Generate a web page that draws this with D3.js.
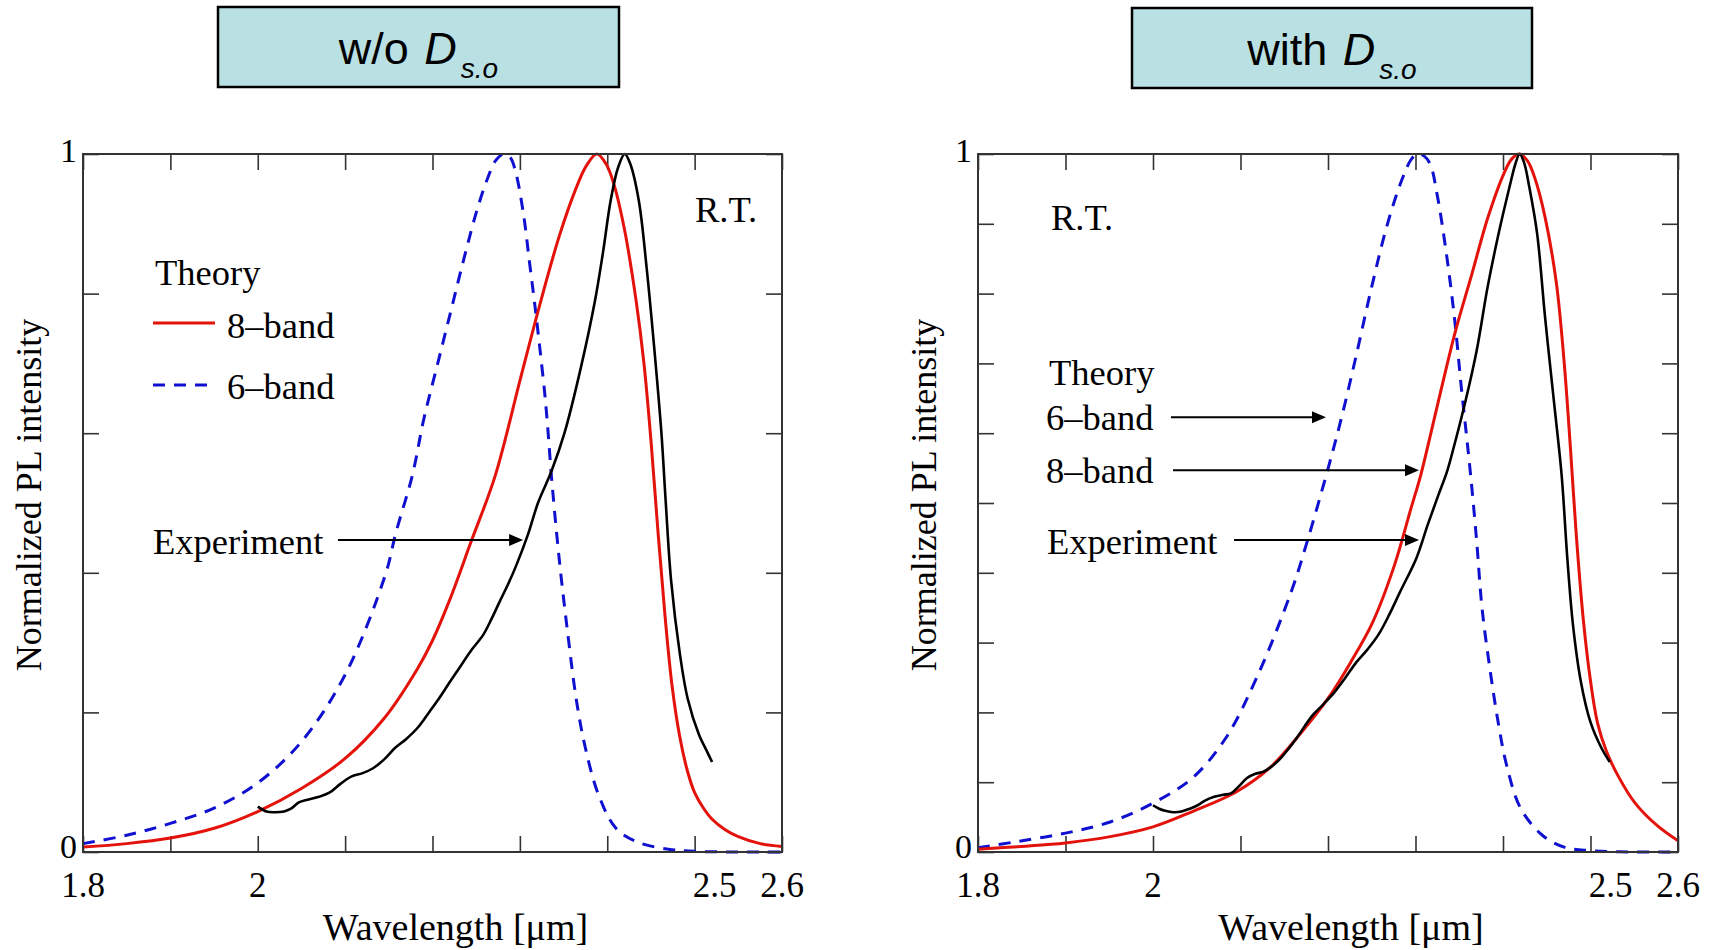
<!DOCTYPE html>
<html><head><meta charset="utf-8">
<script src="https://cdn.jsdelivr.net/npm/d3@7"></script>
<style>
body{margin:0;background:#fff}
svg{display:block}
.serif{font-family:"Liberation Serif","Times New Roman",serif}
.sans{font-family:"Liberation Sans",Arial,sans-serif}
</style>
</head><body>
<svg id="c" width="1711" height="950"></svg>
<script>
// ---------------- data ----------------
const xTicks = [1.8, 1.9, 2.0, 2.1, 2.2, 2.3, 2.4, 2.5, 2.6];
const xLabelValues = [1.8, 2.0, 2.5, 2.6];
const xLabelText = ["1.8", "2", "2.5", "2.6"];
const yTicksLeft = [0, 0.2, 0.4, 0.6, 0.8, 1];
const yTicksRight = [0, 0.1, 0.2, 0.3, 0.4, 0.5, 0.6, 0.7, 0.8, 0.9, 1];
const yLabelValues = [0, 1];
const yLabelText = ["0", "1"];
const panelTitles = ["w/o", "with"];

// Left panel (without spin-orbit)
const left6band = [[1.80,0.012],[1.85,0.024],[1.90,0.041],[1.95,0.063],[2.00,0.099],[2.05,0.158],[2.10,0.254],
  [2.146,0.397],[2.158,0.457],[2.177,0.54],[2.19,0.62],[2.206,0.70],[2.222,0.78],[2.238,0.86],[2.251,0.92],
  [2.263,0.965],[2.272,0.99],[2.281,1.0],[2.289,0.995],[2.295,0.975],[2.304,0.915],[2.311,0.845],[2.317,0.785],
  [2.323,0.72],[2.329,0.65],[2.333,0.59],[2.336,0.54],[2.345,0.42],[2.355,0.311],[2.365,0.215],[2.375,0.149],
  [2.39,0.082],[2.41,0.034],[2.435,0.014],[2.47,0.004],[2.50,0.001],[2.55,0.0],[2.60,0.0]];
const left8band = [[1.80,0.007],[1.85,0.012],[1.90,0.02],[1.95,0.034],[2.00,0.058],[2.05,0.091],[2.10,0.134],
  [2.145,0.192],[2.183,0.263],[2.20,0.303],[2.219,0.359],[2.244,0.444],[2.272,0.54],[2.301,0.68],[2.323,0.785],
  [2.345,0.882],[2.364,0.95],[2.376,0.983],[2.388,1.0],[2.399,0.985],[2.408,0.955],[2.42,0.89],[2.433,0.79],
  [2.442,0.70],[2.45,0.59],[2.458,0.46],[2.466,0.34],[2.474,0.24],[2.483,0.165],[2.492,0.115],[2.50,0.085],
  [2.51,0.063],[2.52,0.047],[2.535,0.032],[2.55,0.022],[2.575,0.012],[2.60,0.008]];
const leftExp = [[2.00,0.065],[2.01,0.058],[2.019,0.057],[2.03,0.058],[2.038,0.062],[2.047,0.071],[2.057,0.075],
  [2.07,0.079],[2.082,0.085],[2.095,0.098],[2.107,0.108],[2.12,0.113],[2.132,0.12],[2.145,0.133],[2.157,0.149],
  [2.17,0.162],[2.183,0.178],[2.196,0.2],[2.208,0.221],[2.22,0.244],[2.233,0.268],[2.245,0.29],[2.258,0.311],
  [2.268,0.335],[2.277,0.359],[2.287,0.385],[2.296,0.411],[2.309,0.454],[2.321,0.501],[2.336,0.545],[2.351,0.60],
  [2.37,0.695],[2.386,0.79],[2.395,0.858],[2.404,0.934],[2.4125,0.981],[2.42,1.0],[2.426,0.987],[2.436,0.934],
  [2.445,0.838],[2.454,0.719],[2.462,0.60],[2.467,0.50],[2.473,0.39],[2.483,0.285],[2.492,0.22],[2.505,0.168],
  [2.513,0.147],[2.52,0.129]];

// Right panel (with spin-orbit)
const right6band = [[1.80,0.006],[1.845,0.015],[1.90,0.027],[1.951,0.043],[2.00,0.07],[2.045,0.106],[2.083,0.163],
  [2.12,0.254],[2.158,0.373],[2.176,0.444],[2.198,0.54],[2.215,0.62],[2.232,0.71],[2.25,0.81],[2.268,0.90],
  [2.285,0.965],[2.2955,0.993],[2.3025,1.0],[2.31,0.997],[2.317,0.985],[2.325,0.94],[2.335,0.86],[2.345,0.76],
  [2.352,0.67],[2.358,0.60],[2.363,0.54],[2.37,0.444],[2.376,0.35],[2.386,0.254],[2.395,0.182],[2.404,0.125],
  [2.42,0.063],[2.445,0.024],[2.47,0.007],[2.50,0.002],[2.55,0.0],[2.60,0.0]];
const right8band = [[1.80,0.004],[1.85,0.008],[1.90,0.013],[1.951,0.022],[2.00,0.036],[2.045,0.058],[2.095,0.086],
  [2.133,0.12],[2.17,0.172],[2.20,0.22],[2.226,0.272],[2.251,0.329],[2.276,0.411],[2.295,0.493],[2.306,0.54],
  [2.326,0.645],[2.345,0.743],[2.364,0.826],[2.383,0.91],[2.401,0.972],[2.41,0.993],[2.419,1.0],[2.428,0.99],
  [2.436,0.967],[2.448,0.91],[2.461,0.815],[2.47,0.70],[2.477,0.58],[2.484,0.45],[2.492,0.33],[2.50,0.245],
  [2.508,0.185],[2.518,0.145],[2.532,0.108],[2.551,0.07],[2.576,0.038],[2.60,0.016]];
const rightExp = [[2.00,0.067],[2.007,0.062],[2.014,0.059],[2.023,0.057],[2.0325,0.058],[2.042,0.062],[2.051,0.067],
  [2.06,0.074],[2.07,0.079],[2.08,0.082],[2.089,0.084],[2.098,0.094],[2.1075,0.106],[2.117,0.112],[2.126,0.115],
  [2.135,0.122],[2.145,0.133],[2.155,0.148],[2.164,0.163],[2.1825,0.196],[2.195,0.212],[2.2075,0.229],[2.22,0.25],
  [2.2325,0.272],[2.245,0.29],[2.2575,0.311],[2.27,0.34],[2.2825,0.373],[2.301,0.421],[2.314,0.469],[2.326,0.511],
  [2.336,0.545],[2.345,0.586],[2.3575,0.648],[2.37,0.719],[2.3825,0.81],[2.395,0.886],[2.4075,0.953],[2.414,0.985],
  [2.419,1.0],[2.424,0.988],[2.43,0.953],[2.439,0.886],[2.448,0.767],[2.458,0.648],[2.467,0.54],[2.4735,0.421],
  [2.48,0.325],[2.489,0.244],[2.50,0.186],[2.5125,0.149],[2.522,0.129]];

// ---------------- drawing ----------------
const svg = d3.select("#c");
svg.append("rect").attr("width",1711).attr("height",950).attr("fill","#fff");

const panels = [
  {x0:83, x1:782, y0:154, y1:852, yTicks:yTicksLeft, s6:left6band, s8:left8band, exp:leftExp,
   title:panelTitles[0], box:[218,7,401,80]},
  {x0:978, x1:1678, y0:154, y1:852, yTicks:yTicksRight, s6:right6band, s8:right8band, exp:rightExp,
   title:panelTitles[1], box:[1132,8,400,80]}
];

const RED = "#e3120b", BLUE = "#1010d0", AX = "#333";

function arrow(g, xa, xb, y) {
  g.append("line").attr("x1",xa).attr("x2",xb-10).attr("y1",y).attr("y2",y)
    .attr("stroke","#000").attr("stroke-width",2);
  g.append("path").attr("d",`M${xb},${y} L${xb-14},${y-6} L${xb-14},${y+6} Z`).attr("fill","#000");
}

panels.forEach((p, i) => {
  const x = d3.scaleLinear().domain([1.8, 2.6]).range([p.x0, p.x1]);
  const y = d3.scaleLinear().domain([0, 1]).range([p.y1, p.y0]);
  const g = svg.append("g");

  // title box
  const [bx, by, bw, bh] = p.box;
  g.append("rect").attr("x",bx).attr("y",by).attr("width",bw).attr("height",bh)
    .attr("fill","#b9e0e3").attr("stroke","#000").attr("stroke-width",2.5);
  const t = g.append("text").attr("class","sans").attr("x",bx+bw/2).attr("y",by+57)
    .attr("text-anchor","middle").attr("font-size",45).attr("fill","#000");
  t.append("tspan").text(p.title + " ");
  t.append("tspan").attr("dx",3).attr("font-style","italic").text("D");
  t.append("tspan").attr("dx",4).attr("dy",14).attr("font-style","italic").attr("font-size",28).text("s.o");

  // ticks (inward) on all four sides
  const tickLen = 16;
  const axStyle = sel => { sel.select(".domain").remove();
    sel.selectAll(".tick line").attr("stroke",AX).attr("stroke-width",1.6);
    sel.selectAll(".tick text").remove(); };
  g.append("g").attr("transform",`translate(0,${p.y1})`)
    .call(d3.axisBottom(x).tickValues(xTicks).tickSizeInner(-tickLen).tickSizeOuter(0)).call(axStyle);
  g.append("g").attr("transform",`translate(0,${p.y0})`)
    .call(d3.axisTop(x).tickValues(xTicks).tickSizeInner(-tickLen).tickSizeOuter(0)).call(axStyle);
  g.append("g").attr("transform",`translate(${p.x0},0)`)
    .call(d3.axisLeft(y).tickValues(p.yTicks).tickSizeInner(-tickLen).tickSizeOuter(0)).call(axStyle);
  g.append("g").attr("transform",`translate(${p.x1},0)`)
    .call(d3.axisRight(y).tickValues(p.yTicks).tickSizeInner(-tickLen).tickSizeOuter(0)).call(axStyle);

  // tick labels
  xLabelValues.forEach((v, k) => {
    g.append("text").attr("class","serif").attr("x", x(v) + (v === 2.5 ? 20 : 0)).attr("y", p.y1 + 45)
      .attr("text-anchor","middle").attr("font-size",35).text(xLabelText[k]);
  });
  yLabelValues.forEach((v, k) => {
    g.append("text").attr("class","serif").attr("x", p.x0 - 6).attr("y", y(v) + (v === 1 ? 8 : 6))
      .attr("text-anchor","end").attr("font-size",34).text(yLabelText[k]);
  });

  // axis titles
  g.append("text").attr("class","serif").attr("font-size",36).attr("text-anchor","middle")
    .attr("transform",`translate(${p.x0-42},${(p.y0+p.y1)/2-8}) rotate(-90)`).text("Normalized PL intensity");
  g.append("text").attr("class","serif").attr("font-size",38).attr("text-anchor","middle")
    .attr("x",(p.x0+p.x1)/2+23).attr("y",940).text("Wavelength [\u03bcm]");

  // curves
  const line = d3.line().x(d => x(d[0])).y(d => y(d[1])).curve(d3.curveCatmullRom.alpha(0.5));
  g.append("path").datum(p.s6).attr("d",line).attr("fill","none").attr("stroke",BLUE)
    .attr("stroke-width",3).attr("stroke-dasharray","12,9");
  g.append("path").datum(p.s8).attr("d",line).attr("fill","none").attr("stroke",RED).attr("stroke-width",3);
  g.append("path").datum(p.exp).attr("d",line).attr("fill","none").attr("stroke","#000").attr("stroke-width",2.6);

  // frame
  g.append("rect").attr("x",p.x0).attr("y",p.y0).attr("width",p.x1-p.x0).attr("height",p.y1-p.y0)
    .attr("fill","none").attr("stroke",AX).attr("stroke-width",2);

  const txt = (tx, ty, s) => g.append("text").attr("class","serif").attr("font-size",36.5)
    .attr("x",tx).attr("y",ty).attr("fill","#000").text(s);

  if (i === 0) {
    txt(p.x0+612, p.y0+68, "R.T.");
    txt(p.x0+72, p.y0+131, "Theory");
    g.append("line").attr("x1",p.x0+70).attr("x2",p.x0+132).attr("y1",p.y0+169).attr("y2",p.y0+169)
      .attr("stroke",RED).attr("stroke-width",3);
    txt(p.x0+144, p.y0+184, "8\u2013band");
    g.append("line").attr("x1",p.x0+70).attr("x2",p.x0+132).attr("y1",p.y0+231).attr("y2",p.y0+231)
      .attr("stroke",BLUE).attr("stroke-width",3).attr("stroke-dasharray","12,9");
    txt(p.x0+144, p.y0+245, "6\u2013band");
    txt(p.x0+70, p.y0+400, "Experiment");
    arrow(g, x(2.0918), x(2.3037), y(0.447));
  } else {
    txt(p.x0+73, p.y0+76, "R.T.");
    txt(p.x0+71, p.y0+231, "Theory");
    txt(p.x0+68, p.y0+276, "6\u2013band");
    arrow(g, x(2.0206), x(2.1977), y(0.623));
    txt(p.x0+68, p.y0+329, "8\u2013band");
    arrow(g, x(2.0229), x(2.304), y(0.547));
    txt(p.x0+69, p.y0+400, "Experiment");
    arrow(g, x(2.0926), x(2.304), y(0.447));
  }
});
</script>
</body></html>
